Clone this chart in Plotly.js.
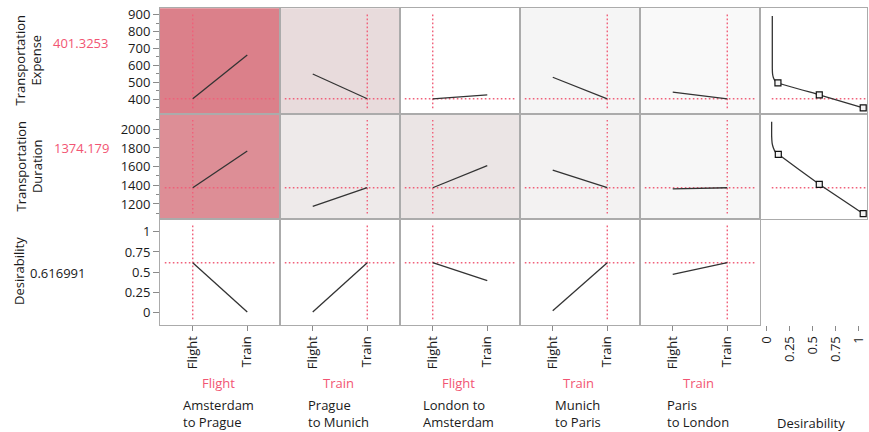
<!DOCTYPE html>
<html>
<head>
<meta charset="utf-8">
<script src="https://cdn.plot.ly/plotly-3.0.1.min.js"></script>
<style>html,body{margin:0;padding:0;background:#fff;}#chart{width:869px;height:432px;}</style>
</head>
<body>
<div id="chart"></div>
<script>
// ---------- data ----------
const factors = ['Amsterdam<br>to Prague', 'Prague<br>to Munich', 'London to<br>Amsterdam', 'Munich<br>to Paris', 'Paris<br>to London'];
const levels = ['Flight', 'Train'];
const currentLevel = ['Flight', 'Train', 'Flight', 'Train', 'Train'];
const responses = ['Transportation<br>Expense', 'Transportation<br>Duration', 'Desirability'];
const currentResponse = [401.3253, 1374.179, 0.616991];
const currentResponseText = ['401.3253', '1374.179', '0.616991'];

const expenseFlight = [401.3, 548, 401.3, 529, 441];
const expenseTrain = [661, 401.3, 424, 401.3, 401.3];
const durationFlight = [1374.2, 1175, 1374.2, 1564, 1361];
const durationTrain = [1768, 1374.2, 1610, 1374.2, 1374.2];
const desirFlight = [0.617, 0.009, 0.617, 0.025, 0.474];
const desirTrain = [0.009, 0.617, 0.395, 0.617, 0.617];

// desirability functions (desirability on x, response on y)
const expenseDesX = [0.063, 0.063, 0.066, 0.076, 0.095, 0.124, 0.571, 1.046];
const expenseDesY = [892, 584, 548, 524, 507, 495, 425, 347];
const expenseCtrlX = [0.124, 0.571, 1.046];
const expenseCtrlY = [495, 425, 347];
const durationDesX = [0.056, 0.056, 0.061, 0.075, 0.097, 0.128, 0.571, 1.046];
const durationDesY = [2081, 1928, 1853, 1800, 1757, 1732, 1411, 1096];
const durationCtrlX = [0.128, 0.571, 1.046];
const durationCtrlY = [1732, 1411, 1096];

const yTickVals = [[400, 500, 600, 700, 800, 900], [1200, 1400, 1600, 1800, 2000], [0, 0.25, 0.5, 0.75, 1]];
const yTickText = [['400', '500', '600', '700', '800', '900'], ['1200', '1400', '1600', '1800', '2000'], ['0', '0.25', '0.5', '0.75', '1']];
const desTickVals = [0, 0.25, 0.5, 0.75, 1];
const desTickText = ['0', '0.25', '0.5', '0.75', '1'];

// ---------- layout geometry / style ----------
const W = 869, H = 432;
const colEdges = [160, 280, 400, 520, 640, 760, 867];
const rowEdges = [8.3, 114, 219.3, 325];
const yRanges = [[311.1, 937.6], [1036, 2164], [-0.152, 1.153]];
const catRange = [-0.6, 1.6];
const desRange = [-0.070, 1.087];
const minorDtick = [50, 100, null];
const bg = [
  ['#db808a', '#e8dbdc', '#ffffff', '#f5f5f5', '#f9f9f9', '#ffffff'],
  ['#dd8e96', '#eeeaea', '#ebe5e5', '#f3f2f2', '#f7f7f7', '#ffffff'],
  ['#ffffff', '#ffffff', '#ffffff', '#ffffff', '#ffffff', '#ffffff']
];
const RED = '#f25573';
const HAIR = '#f0607a';
const HAIRDASH = '1.6px,2.4px';
const FONT = 'Open Sans, sans-serif';
const TXT = '#1a1a1a';
const BORDER = '#ababab';

const profileFlight = [expenseFlight, durationFlight, desirFlight];
const profileTrain = [expenseTrain, durationTrain, desirTrain];

const layout = {
  width: W, height: H,
  margin: {l: 0, r: 0, t: 0, b: 0},
  paper_bgcolor: '#fff', plot_bgcolor: '#fff',
  showlegend: false,
  font: {family: FONT, size: 13, color: TXT},
  shapes: [], annotations: []
};
const traces = [];

function px2x(p) { return p / W; }
function px2y(p) { return 1 - p / H; }

for (let r = 0; r < 3; r++) {
  for (let c = 0; c < 6; c++) {
    const k = r * 6 + c + 1;
    const xa = 'xaxis' + (k === 1 ? '' : k), ya = 'yaxis' + (k === 1 ? '' : k);
    const xs = 'x' + (k === 1 ? '' : k), ys = 'y' + (k === 1 ? '' : k);
    const isDes = c === 5;
    const emptyCell = isDes && r === 2;
    const bottom = r === 2, left = c === 0;
    layout[xa] = {
      domain: [px2x(colEdges[c]), px2x(colEdges[c + 1])],
      anchor: ys,
      range: isDes ? desRange : catRange,
      type: isDes ? 'linear' : 'category',
      categoryarray: isDes ? undefined : levels,
      showgrid: false, zeroline: false,
      showline: !emptyCell, mirror: true, linecolor: BORDER, linewidth: 1,
      ticks: bottom ? 'outside' : '', ticklen: 5, tickcolor: '#8a8a8a',
      showticklabels: bottom, tickangle: -90,
      tickfont: {family: FONT, size: 13, color: TXT},
      fixedrange: true
    };
    if (isDes) { layout[xa].tickvals = desTickVals; layout[xa].ticktext = desTickText; }
    layout[ya] = {
      domain: [px2y(rowEdges[r + 1]), px2y(rowEdges[r])],
      anchor: xs,
      range: yRanges[r],
      showgrid: false, zeroline: false,
      showline: !emptyCell, mirror: true, linecolor: BORDER, linewidth: 1,
      ticks: left ? 'outside' : '', ticklen: 6, tickcolor: '#8a8a8a',
      showticklabels: left,
      tickvals: yTickVals[r], ticktext: yTickText[r],
      tickfont: {family: FONT, size: 13, color: TXT},
      fixedrange: true
    };
    if (left && minorDtick[r]) {
      layout[ya].minor = {dtick: minorDtick[r], ticks: 'outside', ticklen: 3, tickcolor: '#8a8a8a', showgrid: false};
    }
    // panel background
    layout.shapes.push({type: 'rect', xref: xs + ' domain', yref: ys + ' domain', x0: 0, x1: 1, y0: 0, y1: 1,
      fillcolor: bg[r][c], line: {width: 0}, layer: 'below'});

    if (!isDes) {
      traces.push({type: 'scatter', mode: 'lines', xaxis: xs, yaxis: ys,
        x: levels, y: [profileFlight[r][c], profileTrain[r][c]],
        line: {color: '#333', width: 1.3}, hoverinfo: 'skip'});
      // hairlines at current settings
      layout.shapes.push({type: 'line', xref: xs + ' domain', yref: ys, x0: 0.04, x1: 0.96,
        y0: currentResponse[r], y1: currentResponse[r], line: {color: HAIR, width: 1.4, dash: HAIRDASH}, layer: 'below'});
      const idx = levels.indexOf(currentLevel[c]);
      layout.shapes.push({type: 'line', xref: xs, yref: ys + ' domain', x0: idx, x1: idx,
        y0: 0.055, y1: 0.945, line: {color: HAIR, width: 1.4, dash: HAIRDASH}, layer: 'below'});
    } else if (r < 2) {
      const dx = r === 0 ? expenseDesX : durationDesX;
      const dy = r === 0 ? expenseDesY : durationDesY;
      const cx = r === 0 ? expenseCtrlX : durationCtrlX;
      const cy = r === 0 ? expenseCtrlY : durationCtrlY;
      layout.shapes.push({type: 'line', xref: xs + ' domain', yref: ys, x0: 0.11, x1: 1,
        y0: currentResponse[r], y1: currentResponse[r], line: {color: HAIR, width: 1.4, dash: HAIRDASH}, layer: 'below'});
      traces.push({type: 'scatter', mode: 'lines', xaxis: xs, yaxis: ys, x: dx, y: dy,
        line: {color: '#333', width: 1.3, shape: 'spline', smoothing: 0.3}, hoverinfo: 'skip'});
      traces.push({type: 'scatter', mode: 'markers', xaxis: xs, yaxis: ys, x: cx, y: cy,
        marker: {symbol: 'square', size: 6, color: '#f4f4f4', line: {color: '#111', width: 1.2}}, hoverinfo: 'skip'});
    } else {
      // empty cell: register the subplot so its desirability axis is drawn
      traces.push({type: 'scatter', mode: 'lines', xaxis: xs, yaxis: ys, x: [], y: [], hoverinfo: 'skip'});
    }
  }
}

// ---------- annotations ----------
const respLabelPos = [[28.5, 60], [28.5, 166], [19, 271]];
const respValuePos = [[80, 42.5], [81, 148], [58, 272.5]];
const respValueColor = [RED, RED, TXT];
for (let r = 0; r < 3; r++) {
  layout.annotations.push({xref: 'paper', yref: 'paper', x: px2x(respLabelPos[r][0]), y: px2y(respLabelPos[r][1]),
    text: responses[r], textangle: -90, showarrow: false, xanchor: 'center', yanchor: 'middle',
    font: {family: FONT, size: 13, color: TXT}});
  layout.annotations.push({xref: 'paper', yref: 'paper', x: px2x(respValuePos[r][0]), y: px2y(respValuePos[r][1]),
    text: currentResponseText[r], showarrow: false, xanchor: 'center', yanchor: 'middle',
    font: {family: FONT, size: 13, color: respValueColor[r]}});
}
for (let c = 0; c < 5; c++) {
  const cx = (colEdges[c] + colEdges[c + 1]) / 2 - 2;
  layout.annotations.push({xref: 'paper', yref: 'paper', x: px2x(cx), y: px2y(383),
    text: currentLevel[c], showarrow: false, xanchor: 'center', yanchor: 'middle',
    font: {family: FONT, size: 13, color: RED}});
  layout.annotations.push({xref: 'paper', yref: 'paper', x: px2x(cx), y: px2y(413),
    text: factors[c], align: 'left', showarrow: false, xanchor: 'center', yanchor: 'middle',
    font: {family: FONT, size: 13, color: TXT}});
}
layout.annotations.push({xref: 'paper', yref: 'paper', x: px2x(811), y: px2y(423),
  text: 'Desirability', showarrow: false, xanchor: 'center', yanchor: 'middle',
  font: {family: FONT, size: 13, color: TXT}});

Plotly.newPlot('chart', traces, layout, {displayModeBar: false, staticPlot: true});
</script>
</body>
</html>
